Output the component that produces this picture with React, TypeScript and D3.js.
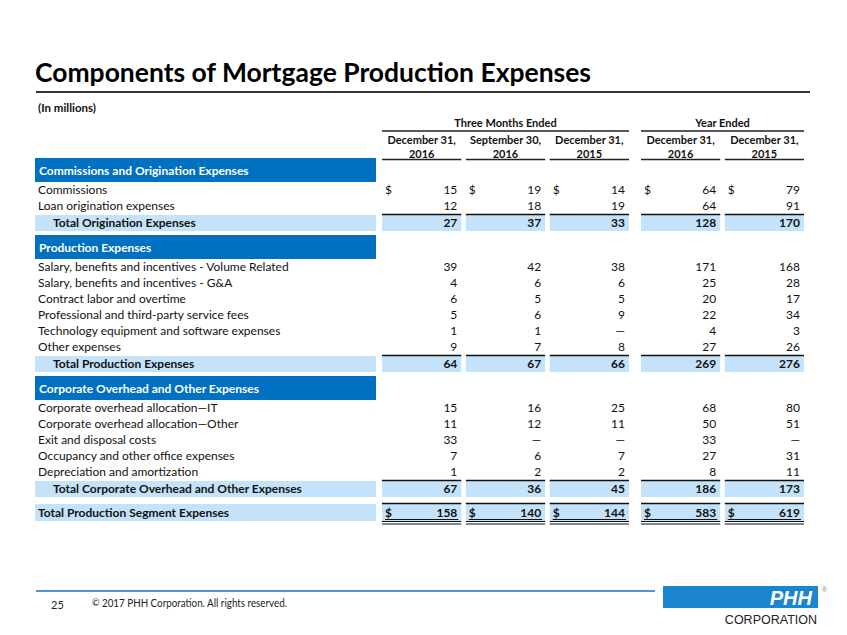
import React from 'react';
import * as d3 from 'd3';

// ---------- data ----------
const columnGroups = ['Three Months Ended', 'Year Ended'];
const columnHeadLine1 = ['December 31,', 'September 30,', 'December 31,', 'December 31,', 'December 31,'];
const columnHeadLine2 = ['2016', '2016', '2015', '2016', '2015'];
const columnGroupOf = [0, 0, 0, 1, 1];

const sectionTitles = [
  'Commissions and Origination Expenses',
  'Production Expenses',
  'Corporate Overhead and Other Expenses',
];
const totalTitles = [
  'Total Origination Expenses',
  'Total Production Expenses',
  'Total Corporate Overhead and Other Expenses',
];

const originationLabels = ['Commissions', 'Loan origination expenses'];
const originationValues: (number | null)[][] = [
  [15, 19, 14, 64, 79],
  [12, 18, 19, 64, 91],
];
const originationTotal = [27, 37, 33, 128, 170];

const productionLabels = [
  'Salary, benefits and incentives - Volume Related',
  'Salary, benefits and incentives - G&A',
  'Contract labor and overtime',
  'Professional and third-party service fees',
  'Technology equipment and software expenses',
  'Other expenses',
];
const productionValues: (number | null)[][] = [
  [39, 42, 38, 171, 168],
  [4, 6, 6, 25, 28],
  [6, 5, 5, 20, 17],
  [5, 6, 9, 22, 34],
  [1, 1, null, 4, 3],
  [9, 7, 8, 27, 26],
];
const productionTotal = [64, 67, 66, 269, 276];

const corporateLabels = [
  'Corporate overhead allocation\u2014IT',
  'Corporate overhead allocation\u2014Other',
  'Exit and disposal costs',
  'Occupancy and other office expenses',
  'Depreciation and amortization',
];
const corporateValues: (number | null)[][] = [
  [15, 16, 25, 68, 80],
  [11, 12, 11, 50, 51],
  [33, null, null, 33, null],
  [7, 6, 7, 27, 31],
  [1, 2, 2, 8, 11],
];
const corporateTotal = [67, 36, 45, 186, 173];

const grandTotalLabel = 'Total Production Segment Expenses';
const grandTotal = [158, 140, 144, 583, 619];

// ---------- styling ----------
const FONT = 'Lato, "Open Sans", sans-serif';
const DARK_BLUE = '#0070C0';
const LIGHT_BLUE = '#C4E3FA';
const TEXT = '#111';

type Row =
  | { kind: 'header'; label: string; y0: number; y1: number }
  | { kind: 'item'; label: string; values: (number | null)[]; dollar: boolean; y0: number; y1: number }
  | { kind: 'total'; label: string; values: (number | null)[]; y0: number; y1: number }
  | { kind: 'grand'; label: string; values: (number | null)[]; y0: number; y1: number };

function buildRows(): Row[] {
  const sections = [
    { labels: originationLabels, values: originationValues, total: originationTotal },
    { labels: productionLabels, values: productionValues, total: productionTotal },
    { labels: corporateLabels, values: corporateValues, total: corporateTotal },
  ];
  const rows: Row[] = [];
  let y = 158;
  sections.forEach((s, si) => {
    rows.push({ kind: 'header', label: sectionTitles[si], y0: y, y1: y + 24 });
    y += 24;
    s.labels.forEach((lab, i) => {
      rows.push({ kind: 'item', label: lab, values: s.values[i], dollar: si === 0 && i === 0, y0: y, y1: y + 16 });
      y += 16;
    });
    rows.push({ kind: 'total', label: totalTitles[si], values: s.total, y0: y + 1, y1: y + 17 });
    y += 17 + 4;
  });
  y += 3;
  rows.push({ kind: 'grand', label: grandTotalLabel, values: grandTotal, y0: y, y1: y + 17 });
  return rows;
}

export default function App() {
  const rows = buildRows();
  const idx = d3.range(columnHeadLine1.length);
  const bandA = d3.scaleBand<number>().domain(idx.filter((i) => columnGroupOf[i] === 0)).range([382, 629]).paddingInner(0.054);
  const bandB = d3.scaleBand<number>().domain(idx.filter((i) => columnGroupOf[i] === 1)).range([641, 804]).paddingInner(0.054);
  const bands = [bandA, bandB];
  const colX = (i: number) => bands[columnGroupOf[i]](i) as number;
  const colW = (i: number) => bands[columnGroupOf[i]].bandwidth();
  const fmt = d3.format(',d');
  const labelX0 = 35;
  const labelX1 = 376;

  return (
    <svg width={847} height={635} style={{ position: 'absolute', left: 0, top: 0, background: '#fff' }} fontFamily={FONT}>
      <rect width={847} height={635} fill="#fff" />
      {/* title */}
      <text x={35} y={82} fontSize={27} fontWeight={700} fill="#000" textLength={556} lengthAdjust="spacingAndGlyphs">
        Components of Mortgage Production Expenses
      </text>
      <line x1={36} x2={810} y1={92} y2={92} stroke="#333" strokeWidth={2} />
      <text x={38} y={112} fontSize={11.5} fontWeight={700} fill={TEXT}>
        (In millions)
      </text>

      {/* group headers */}
      {bands.map((b, g) => {
        const [r0, r1] = b.range();
        return (
          <g key={g}>
            <text x={(r0 + r1) / 2} y={127} fontSize={11} fontWeight={700} textAnchor="middle" fill={TEXT}>
              {columnGroups[g]}
            </text>
            <line x1={r0} x2={r1} y1={131} y2={131} stroke="#222" strokeWidth={1.5} />
          </g>
        );
      })}
      {idx.map((i) => (
        <g key={i}>
          <text x={colX(i) + colW(i) / 2} y={144} fontSize={11} fontWeight={700} textAnchor="middle" fill={TEXT}>
            {columnHeadLine1[i]}
          </text>
          <text x={colX(i) + colW(i) / 2} y={158} fontSize={11} fontWeight={700} textAnchor="middle" fill={TEXT}>
            {columnHeadLine2[i]}
          </text>
          <line x1={colX(i)} x2={colX(i) + colW(i)} y1={159.5} y2={159.5} stroke="#222" strokeWidth={1.5} />
        </g>
      ))}

      {/* rows */}
      {rows.map((r, ri) => {
        const cy = (r.y0 + r.y1) / 2;
        if (r.kind === 'header') {
          return (
            <g key={ri}>
              <rect x={labelX0} y={r.y0} width={labelX1 - labelX0} height={r.y1 - r.y0} fill={DARK_BLUE} />
              <text x={39} y={cy + 4.5} fontSize={12} fontWeight={700} fill="#fff">
                {r.label}
              </text>
            </g>
          );
        }
        const bold = r.kind !== 'item';
        const labelIndent = r.kind === 'total' ? 53 : 38;
        return (
          <g key={ri}>
            {bold && <rect x={labelX0} y={r.y0} width={labelX1 - labelX0} height={r.y1 - r.y0} fill={LIGHT_BLUE} />}
            <text x={labelIndent} y={cy + 4} fontSize={12} fontWeight={bold ? 700 : 400} fill={TEXT}>
              {r.label}
            </text>
            {idx.map((i) => {
              const x0 = colX(i);
              const x1 = x0 + colW(i);
              const v = r.values[i];
              const showDollar = r.kind === 'grand' || (r.kind === 'item' && r.dollar);
              return (
                <g key={i}>
                  {bold && <rect x={x0} y={r.y0} width={x1 - x0} height={r.y1 - r.y0} fill={LIGHT_BLUE} />}
                  {bold && <line x1={x0} x2={x1} y1={r.y0 - 0.5} y2={r.y0 - 0.5} stroke="#111" strokeWidth={1.5} />}
                  {showDollar && (
                    <text x={x0 + 3} y={cy + 4} fontSize={12} fontWeight={bold ? 700 : 400} fill={TEXT}>
                      $
                    </text>
                  )}
                  <text x={x1 - 4} y={cy + 4} fontSize={12} fontWeight={bold ? 700 : 400} textAnchor="end" fill={TEXT}>
                    {v === null ? '\u2014' : fmt(v)}
                  </text>
                  {r.kind === 'grand' && (
                    <g>
                      <line x1={x0 + 3} x2={x1 - 3} y1={r.y1 - 1.5} y2={r.y1 - 1.5} stroke="#111" strokeWidth={1} />
                      <line x1={x0} x2={x1} y1={r.y1 + 0.5} y2={r.y1 + 0.5} stroke="#111" strokeWidth={1.2} />
                      <line x1={x0} x2={x1} y1={r.y1 + 3} y2={r.y1 + 3} stroke="#111" strokeWidth={1.2} />
                    </g>
                  )}
                </g>
              );
            })}
          </g>
        );
      })}

      {/* footer */}
      <line x1={36} x2={655} y1={591} y2={591} stroke="#1F6FBF" strokeWidth={1.5} />
      <text x={51} y={609} fontSize={11} fill="#222">25</text>
      <text x={92} y={606} fontSize={9} fill="#222">{'\u00A9'}</text>
      <text x={102} y={607} fontSize={11} fill="#222" textLength={185} lengthAdjust="spacingAndGlyphs">2017 PHH Corporation. All rights reserved.</text>
      <rect x={663} y={586} width={155} height={22} fill="#1A86D0" />
      <text x={812} y={605} fontSize={20} fontWeight={700} fontStyle="italic" textAnchor="end" fill="#fff" fontFamily='"Liberation Sans", Arial, sans-serif'>
        PHH
      </text>
      <text x={822} y={592} fontSize={7} fill="#888" fontFamily='"Liberation Sans", Arial, sans-serif'>{'\u00AE'}</text>
      <text x={817} y={624} fontSize={12.5} textAnchor="end" fill="#222" fontFamily='"Liberation Sans", Arial, sans-serif'>
        CORPORATION
      </text>
    </svg>
  );
}
